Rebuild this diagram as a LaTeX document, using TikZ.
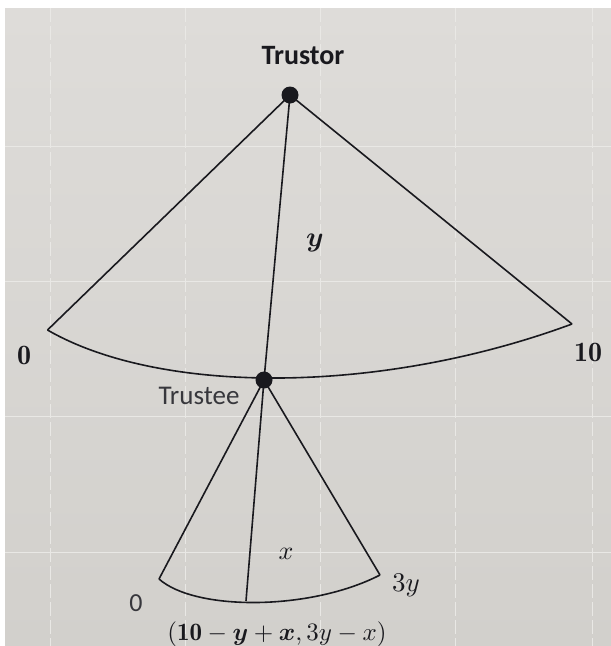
\documentclass[tikz,border=0pt]{standalone}
\usepackage{fontspec}
\usepackage{bm}
\newfontfamily\calibri{Carlito}
\definecolor{bgtop}{RGB}{222,220,217}
\definecolor{bgbot}{RGB}{210,208,204}
\definecolor{gridc}{RGB}{233,232,229}
\definecolor{ink}{RGB}{25,25,30}
\definecolor{softink}{RGB}{55,55,60}
\tikzset{
  dot/.style={circle,fill=ink,inner sep=0pt,minimum size=17pt},
  edge/.style={draw=ink,line width=1.6pt},
  gridline/.style={draw=gridc,line width=1pt},
  lbl/.style={text=ink,inner sep=0pt},
}
\begin{document}
\begin{tikzpicture}[x=1pt,y=-1pt]
\useasboundingbox (0,0) rectangle (611,646);
\fill[white] (0,0) rectangle (611,646);
\shade[top color=bgtop,bottom color=bgbot] (5,8) rectangle (611,646);
% faint grid
\foreach \gx in {50,185,320,455,592} \draw[gridline,dash pattern=on 14pt off 4pt] (\gx,8) -- (\gx,646);
\foreach \gy in {146,281,416,552} \draw[gridline] (5,\gy) -- (611,\gy);
% points
\coordinate (L) at (47.5,330);
\coordinate (R) at (572,324);
\coordinate (sl) at (159,579);
\coordinate (sr) at (380,575);
\coordinate (sm) at (246,601);
\node[dot] (tor) at (290,95) {};
\node[dot] (tee) at (264,380) {};
% big fan
\draw[edge,line join=round] (L) -- (tor.center) -- (R);
\draw[edge] (L) .. controls (160,395) and (380,395) .. (R);
\draw[edge] (tor.center) -- (tee.center);
% small fan
\draw[edge,line join=round] (sl) -- (tee.center) -- (sr);
\draw[edge] (sl) .. controls (195,611) and (310,611) .. (sr);
\draw[edge] (tee.center) -- (sm);
% labels
\node[lbl,font=\calibri\bfseries\fontsize{28}{32}\selectfont] (ttor) at (303,56) {Trustor};
\node[lbl,text=softink,font=\calibri\fontsize{27}{32}\selectfont] (ttee) at (199,396) {Trustee};
\node[lbl,scale=2.8] (ly) at (315,243) {$\bm{y}$};
\node[lbl,scale=2.8] (l0) at (24,355) {$\mathbf{0}$};
\node[lbl,scale=2.8] (l10) at (588,352) {$\mathbf{10}$};
\node[lbl,scale=2.6] (lx) at (286,554) {$x$};
\node[lbl,text=softink,font=\calibri\fontsize{26}{30}\selectfont] (s0) at (136,603) {0};
\node[lbl,scale=2.7] (l3y) at (406,585) {$3y$};
\node[lbl,scale=2.5] (form) at (277,634) {$(\mathbf{10}-\bm{y}+\bm{x},3y-x)$};
\end{tikzpicture}
\end{document}
